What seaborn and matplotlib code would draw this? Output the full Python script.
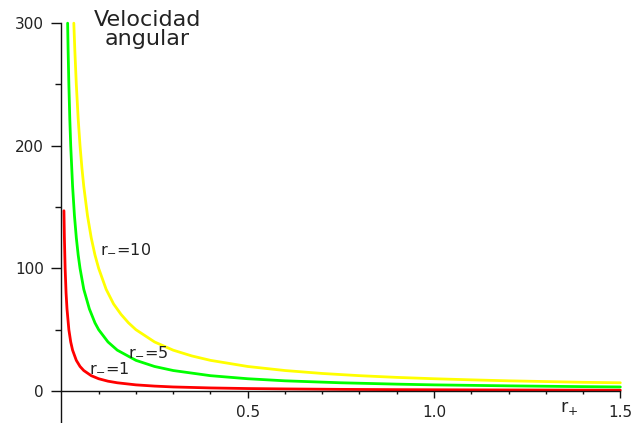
import matplotlib
matplotlib.use("Agg")
import matplotlib.pyplot as plt
import pandas as pd
import seaborn as sns
from matplotlib.ticker import FixedLocator

# Angular velocity versus r_+ for three values of r_-
r_plus_1 = [0.0068, 0.008, 0.01, 0.0125, 0.015, 0.02, 0.025, 0.03, 0.04, 0.05,
            0.06, 0.08, 0.1, 0.125, 0.15, 0.2, 0.25, 0.3, 0.4, 0.5, 0.6, 0.75,
            0.9, 1.0, 1.2, 1.35, 1.5]
omega_1 = [147, 125, 100, 80, 67, 50, 40, 33.3, 25, 20,
           16.7, 12.5, 10, 8, 6.7, 5, 4, 3.3, 2.5, 2, 1.7, 1.33,
           1.1, 1.0, 0.83, 0.74, 0.67]

r_plus_5 = [0.0167, 0.018, 0.02, 0.0225, 0.025, 0.03, 0.035, 0.04, 0.045, 0.05,
            0.06, 0.075, 0.09, 0.1, 0.125, 0.15, 0.2, 0.25, 0.3, 0.4, 0.5,
            0.6, 0.75, 0.9, 1.0, 1.2, 1.35, 1.5]
omega_5 = [300, 278, 250, 222, 200, 167, 143, 125, 111, 100,
           83, 67, 55.6, 50, 40, 33.3, 25, 20, 16.7, 12.5, 10,
           8.3, 6.7, 5.6, 5, 4.2, 3.7, 3.3]

r_plus_10 = [0.0333, 0.036, 0.04, 0.045, 0.05, 0.055, 0.06, 0.07, 0.08, 0.09,
             0.1, 0.12, 0.14, 0.16, 0.18, 0.2, 0.25, 0.3, 0.35, 0.4, 0.5,
             0.6, 0.7, 0.8, 0.9, 1.0, 1.1, 1.2, 1.3, 1.4, 1.5]
omega_10 = [300, 278, 250, 222, 200, 182, 167, 143, 125, 111,
            100, 83, 71, 62.5, 55.6, 50, 40, 33.3, 28.6, 25, 20,
            16.7, 14.3, 12.5, 11.1, 10, 9.1, 8.3, 7.7, 7.1, 6.7]

series_names = ["r$_{-}$=1", "r$_{-}$=5", "r$_{-}$=10"]
series_colors = ["#ff0000", "#00ff00", "#ffff00"]

x_major = [0.5, 1.0, 1.5]
x_major_labels = ["0.5", "1.0", "1.5"]
x_minor = [0.1, 0.2, 0.3, 0.4, 0.6, 0.7, 0.8, 0.9, 1.1, 1.2, 1.3, 1.4]
y_major = [0, 100, 200, 300]
y_major_labels = ["0", "100", "200", "300"]
y_minor = [50, 150, 250]

title_text = "Velocidad\nangular"
x_label_text = "r$_{+}$"

# label anchor points (left edge, vertical centre) in data units
label_x = [0.074, 0.178, 0.103]
label_y = [18.8, 32.6, 116.6]

df = pd.concat([
    pd.DataFrame({"r_plus": r_plus_1, "omega": omega_1, "serie": series_names[0]}),
    pd.DataFrame({"r_plus": r_plus_5, "omega": omega_5, "serie": series_names[1]}),
    pd.DataFrame({"r_plus": r_plus_10, "omega": omega_10, "serie": series_names[2]}),
], ignore_index=True)

sns.set_theme(style="white")
plt.rcParams["font.family"] = ["DejaVu Sans"]
plt.rcParams["mathtext.fontset"] = "dejavusans"

fig = plt.figure(figsize=(6.33, 4.23), dpi=100)
ax = fig.add_axes([0, 0, 1, 1])
ax.set_facecolor("white")

sns.lineplot(data=df, x="r_plus", y="omega", hue="serie",
             hue_order=series_names, palette=series_colors,
             estimator=None, sort=False, linewidth=2.0,
             legend=False, ax=ax)

ax.set_xlim(-0.1648, 1.534)
ax.set_ylim(-26.1, 318.9)

# axes crossing at the origin
for side in ("top", "right"):
    ax.spines[side].set_visible(False)
ax.spines["left"].set_position(("data", 0))
ax.spines["bottom"].set_position(("data", 0))
ax.spines["left"].set_bounds(-26.1, 300)
ax.spines["bottom"].set_bounds(0, 1.5)
for side in ("left", "bottom"):
    ax.spines[side].set_color("#111111")
    ax.spines[side].set_linewidth(1.0)

ax.xaxis.set_major_locator(FixedLocator(x_major))
ax.xaxis.set_minor_locator(FixedLocator(x_minor))
ax.set_xticklabels(x_major_labels)
ax.yaxis.set_major_locator(FixedLocator(y_major))
ax.yaxis.set_minor_locator(FixedLocator(y_minor))
ax.set_yticklabels(y_major_labels)

ax.tick_params(axis="x", which="major", direction="out", length=5, width=1,
               color="#111111", pad=5, labelsize=11, labelcolor="#222222",
               bottom=True)
ax.tick_params(axis="x", which="minor", direction="out", length=2.2, width=1,
               color="#111111", bottom=True)
ax.tick_params(axis="y", which="major", direction="out", length=7, width=1,
               color="#111111", pad=5.5, labelsize=11, labelcolor="#222222",
               left=True)
ax.tick_params(axis="y", which="minor", direction="out", length=4.3, width=1,
               color="#111111", left=True)
ax.set_xlabel("")
ax.set_ylabel("")
ax.grid(False)

for name, lx, ly in zip(series_names, label_x, label_y):
    ax.text(lx, ly, name, ha="left", va="center", fontsize=11.5,
            color="#222222")

ax.text(1.338, -17, x_label_text, ha="left", va="baseline", fontsize=12.5,
        color="#222222")

fig.text(147.5 / 633, 1 - 10 / 423, title_text, ha="center", va="top",
         multialignment="center", fontsize=16, linespacing=0.92,
         color="#222222")

fig.savefig("out.png", dpi=100)
